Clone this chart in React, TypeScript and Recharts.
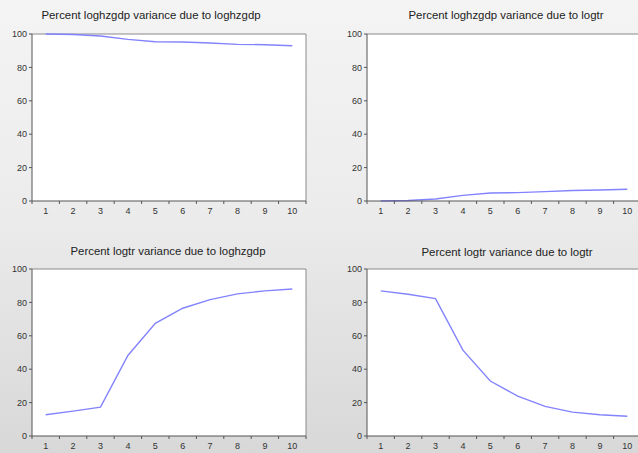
import { LineChart, Line, XAxis, YAxis, CartesianGrid, ReferenceLine } from 'recharts';

const periods = [1, 2, 3, 4, 5, 6, 7, 8, 9, 10];
const yTicks = [0, 20, 40, 60, 80, 100];
// integer ticks carry the labels, half ticks carry the tick marks
const xTicks = [0.5, 1, 1.5, 2, 2.5, 3, 3.5, 4, 4.5, 5, 5.5, 6, 6.5, 7, 7.5, 8, 8.5, 9, 9.5, 10, 10.5];

const gdpDueGdp = [100, 99.7, 98.8, 96.8, 95.4, 95.2, 94.6, 93.8, 93.6, 93.0];
const gdpDueTr = [0, 0.3, 1.2, 3.4, 4.8, 5.0, 5.6, 6.3, 6.6, 7.0];
const trDueGdp = [12.7, 14.9, 17.3, 48.2, 67.5, 76.5, 81.7, 85.1, 86.9, 88.0];
const trDueTr = [86.9, 84.9, 82.3, 51.4, 32.9, 23.9, 17.7, 14.3, 12.7, 11.8];

const titles = [
    'Percent loghzgdp variance due to loghzgdp',
    'Percent loghzgdp variance due to logtr',
    'Percent logtr variance due to loghzgdp',
    'Percent logtr variance due to logtr',
];

const FONT = '"Liberation Sans", Arial, sans-serif';

const XTick = (props: any) => {
    const { x, y, payload } = props;
    const v = payload.value;
    if (Number.isInteger(v)) {
        return (
            <text x={x} y={y} dy="0.71em" textAnchor="middle" fontSize={9} fill="#333" fontFamily={FONT}>
                {v}
            </text>
        );
    }
    // y is the text position: axis line + tickSize + tickMargin
    return <line x1={x} x2={x} y1={y - 7} y2={y - 4} stroke="#555" />;
};

interface PanelProps {
    values: number[]
    left: number
    top: number
}

const Panel = ({ values, left, top }: PanelProps) => {
    const data = periods.map((p, i) => ({ p, v: values[i] }));
    return (
        <div style={{ position: 'absolute', left, top }}>
            <LineChart
                width={320}
                height={226}
                data={data}
                margin={{ top: 34, right: 14, left: 6, bottom: 5 }}
            >
                <CartesianGrid horizontal={false} vertical={false} fill="#ffffff" />
                <XAxis
                    dataKey="p"
                    type="number"
                    domain={[0.5, 10.5]}
                    ticks={xTicks}
                    interval={0}
                    tickLine={false}
                    tickSize={3}
                    tickMargin={4}
                    tick={<XTick />}
                    axisLine={{ stroke: '#555' }}
                    height={20}
                />
                <YAxis
                    domain={[0, 100]}
                    ticks={yTicks}
                    interval={0}
                    width={26}
                    tickSize={3}
                    tickMargin={2}
                    tickLine={{ stroke: '#555' }}
                    axisLine={{ stroke: '#555' }}
                    tick={{ fontSize: 9, fill: '#333', fontFamily: FONT }}
                />
                <ReferenceLine y={100} stroke="#8a8a8a" />
                <ReferenceLine x={10.5} stroke="#8a8a8a" />
                <Line
                    type="linear"
                    dataKey="v"
                    stroke="#8383ff"
                    strokeWidth={1.4}
                    dot={false}
                    isAnimationActive={false}
                />
            </LineChart>
        </div>
    );
};

const Title = ({ text, cx, cy }: { text: string, cx: number, cy: number }) => (
    <div
        style={{
            position: 'absolute',
            left: cx - 150,
            top: cy - 7,
            width: 300,
            textAlign: 'center',
            fontFamily: FONT,
            fontSize: 11.4,
            lineHeight: '14px',
            color: '#222',
        }}
    >
        {text}
    </div>
);

export default function App() {
    return (
        <div
            style={{
                position: 'absolute',
                left: 0,
                top: 0,
                width: 638,
                height: 453,
                overflow: 'hidden',
                background: 'linear-gradient(to bottom, #f4f4f4 0%, #ececec 45%, #d8d8d8 100%)',
            }}
        >
            <Panel values={gdpDueGdp} left={0} top={0} />
            <Panel values={gdpDueTr} left={335} top={0} />
            <Panel values={trDueGdp} left={0} top={235} />
            <Panel values={trDueTr} left={335} top={235} />
            <Title text={titles[0]} cx={151} cy={15} />
            <Title text={titles[1]} cx={506} cy={15} />
            <Title text={titles[2]} cx={168} cy={251} />
            <Title text={titles[3]} cx={507} cy={252} />
        </div>
    );
}
